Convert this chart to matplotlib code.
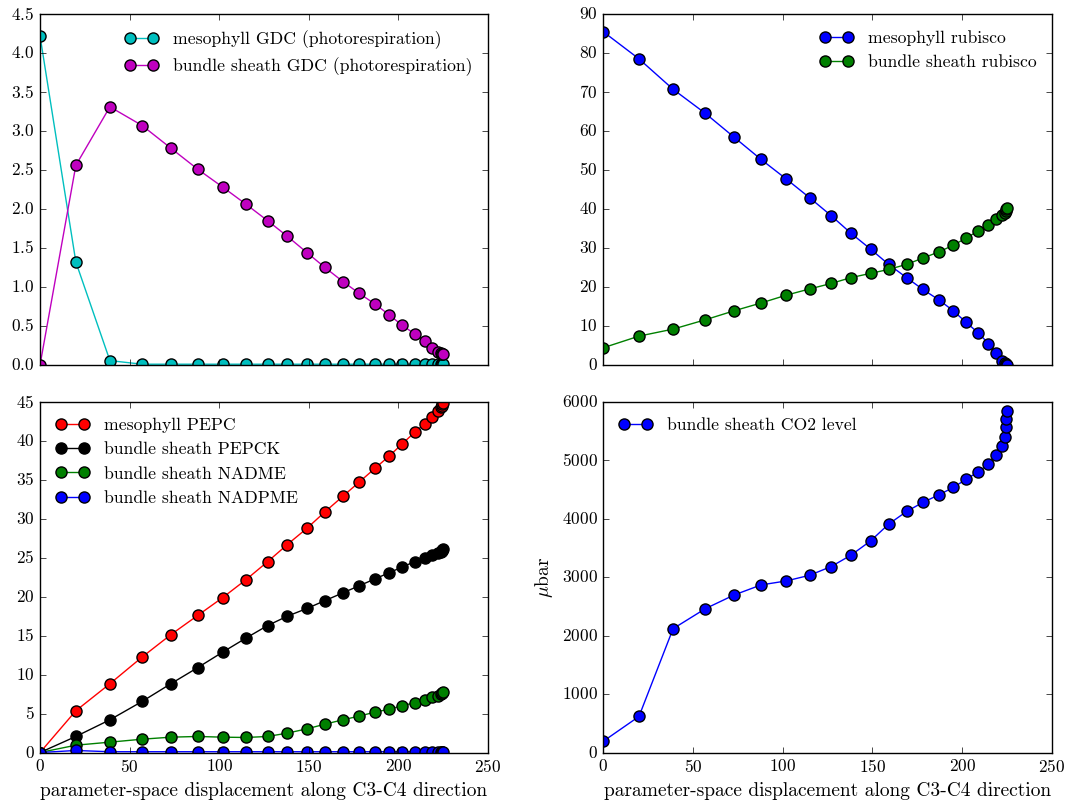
import matplotlib
matplotlib.use("Agg")
import matplotlib.pyplot as plt

plt.style.use("classic")
plt.rcParams["font.family"] = ["cmr10", "DejaVu Serif"]
plt.rcParams["mathtext.fontset"] = "cm"
plt.rcParams["axes.formatter.use_mathtext"] = True
plt.rcParams["font.size"] = 12.5
plt.rcParams["axes.labelsize"] = 14
plt.rcParams["legend.fontsize"] = 12.7

# displacement along the C3 -> C4 direction
disp = [0, 20, 39, 57, 73, 88, 102, 115, 127, 138, 149, 159, 169, 178, 187,
        195, 202, 209, 214.6, 218.9, 222.0, 223.7, 224.2, 224.5, 224.8]

gdc_m = [4.22, 1.32, 0.056, 0.01, 0.01, 0.01, 0.01, 0.01, 0.01, 0.01, 0.01, 0.01,
         0.01, 0.01, 0.01, 0.01, 0.01, 0.01, 0.01, 0.01, 0.01, 0.01, 0.01, 0.01, 0.01]
gdc_bs = [0.0, 2.56, 3.31, 3.07, 2.78, 2.51, 2.28, 2.06, 1.85, 1.65, 1.44, 1.25,
          1.07, 0.92, 0.78, 0.64, 0.51, 0.40, 0.31, 0.22, 0.17, 0.15, 0.14, 0.14, 0.14]

rub_m = [85.5, 78.5, 70.7, 64.5, 58.4, 52.7, 47.7, 42.9, 38.3, 33.8, 29.7, 25.8,
         22.4, 19.4, 16.7, 13.9, 11.0, 8.2, 5.5, 3.1, 1.1, 0.4, 0.2, 0.05, 0.0]
rub_bs = [4.4, 7.4, 9.2, 11.6, 13.9, 15.9, 17.9, 19.5, 20.9, 22.4, 23.5, 24.5,
          25.8, 27.4, 29.0, 30.7, 32.5, 34.4, 35.9, 37.4, 38.5, 39.1, 39.5, 39.9, 40.3]

pepc_m = [0.0, 5.36, 8.83, 12.26, 15.13, 17.6, 19.9, 22.2, 24.5, 26.7, 28.8, 30.9,
          32.9, 34.7, 36.5, 38.1, 39.6, 41.1, 42.2, 43.1, 43.8, 44.3, 44.5, 44.7, 44.9]
pepck_bs = [0.0, 2.06, 4.2, 6.56, 8.83, 10.9, 12.9, 14.7, 16.3, 17.5, 18.5, 19.5,
            20.5, 21.4, 22.3, 23.1, 23.8, 24.5, 25.0, 25.4, 25.6, 25.8, 25.9, 26.0, 26.1]
nadme_bs = [0.0, 0.94, 1.33, 1.71, 1.97, 2.06, 1.97, 1.93, 2.06, 2.49, 3.04, 3.64,
            4.2, 4.67, 5.19, 5.57, 6.0, 6.39, 6.77, 7.1, 7.3, 7.5, 7.6, 7.7, 7.8]
nadpme_bs = [0.0, 0.26, 0.1, 0.1, 0.1, 0.1, 0.1, 0.1, 0.1, 0.1, 0.1, 0.1,
             0.1, 0.1, 0.1, 0.1, 0.1, 0.1, 0.1, 0.1, 0.1, 0.1, 0.1, 0.1, 0.1]

co2_bs = [190, 617, 2120, 2463, 2697, 2869, 2937, 3034, 3183, 3377, 3623, 3909,
          4126, 4280, 4411, 4537, 4674, 4806, 4937, 5091, 5246, 5406, 5577, 5714, 5851]

fig = plt.figure(figsize=(10.7, 8.05), dpi=100, facecolor="white")
ax1 = fig.add_axes([0.0374, 0.5466, 0.4187, 0.436])
ax2 = fig.add_axes([0.5636, 0.5466, 0.4196, 0.436])
ax3 = fig.add_axes([0.0374, 0.0652, 0.4187, 0.4354])
ax4 = fig.add_axes([0.5636, 0.0652, 0.4196, 0.4354])

kw = dict(marker="o", ms=8, lw=1, mec="k", mew=1)
leg = dict(frameon=False, numpoints=2, handlelength=1.9, handletextpad=0.8,
           labelspacing=0.5)

ax1.plot(disp, gdc_m, color="c", label="mesophyll GDC (photorespiration)", **kw)
ax1.plot(disp, gdc_bs, color="m", label="bundle sheath GDC (photorespiration)", **kw)
ax1.set_ylim(0, 4.5)
ax1.legend(loc="upper right", **leg)

ax2.plot(disp, rub_m, color="b", label="mesophyll rubisco", **kw)
ax2.plot(disp, rub_bs, color="g", label="bundle sheath rubisco", **kw)
ax2.set_ylim(0, 90)
ax2.legend(loc="upper right", **leg)

ax3.plot(disp, pepc_m, color="r", label="mesophyll PEPC", **kw)
ax3.plot(disp, pepck_bs, color="k", label="bundle sheath PEPCK", **kw)
ax3.plot(disp, nadme_bs, color="g", label="bundle sheath NADME", **kw)
ax3.plot(disp, nadpme_bs, color="b", label="bundle sheath NADPME", **kw)
ax3.set_ylim(0, 45)
ax3.legend(loc="upper left", **leg)

ax4.plot(disp, co2_bs, color="b", label="bundle sheath CO2 level", **kw)
ax4.set_ylim(0, 6000)
ax4.set_ylabel(r"$\mu$bar")
ax4.legend(loc="upper left", **leg)

for ax in (ax1, ax2, ax3, ax4):
    ax.set_xlim(0, 250)
for ax in (ax1, ax2):
    ax.set_xticklabels([])
for ax in (ax3, ax4):
    ax.set_xlabel("parameter-space displacement along C3-C4 direction")

fig.savefig("out.png", dpi=100, facecolor="white")
